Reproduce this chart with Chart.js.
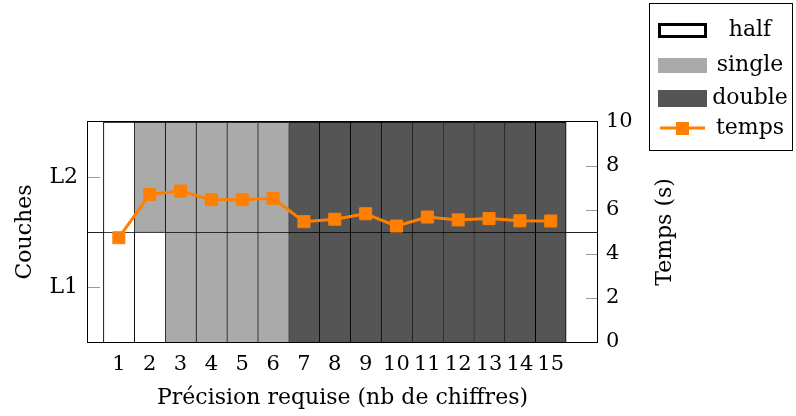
<!DOCTYPE html>
<html>
<head>
<meta charset="utf-8">
<script src="https://cdn.jsdelivr.net/npm/chart.js@4.4.0/dist/chart.umd.min.js"></script>
<style>
html, body { margin: 0; padding: 0; background: #ffffff; }
#contenedor { width: 796px; height: 416px; position: relative; }
</style>
</head>
<body>
<div id="contenedor"><canvas id="grafica"></canvas></div>
<script>
// Datos de la gráfica
const precisions = [1, 2, 3, 4, 5, 6, 7, 8, 9, 10, 11, 12, 13, 14, 15];
const coucheL1 = ['half', 'half', 'single', 'single', 'single', 'single',
    'double', 'double', 'double', 'double', 'double', 'double', 'double', 'double', 'double'];
const coucheL2 = ['half', 'single', 'single', 'single', 'single', 'single',
    'double', 'double', 'double', 'double', 'double', 'double', 'double', 'double', 'double'];
const temps = [4.74, 6.71, 6.86, 6.47, 6.47, 6.53, 5.47, 5.58, 5.83, 5.27, 5.68, 5.55, 5.61, 5.51, 5.50];
const coucheLabels = ['L1', 'L2'];
const tempsTicks = [0, 2, 4, 6, 8, 10];
const types = ['half', 'single', 'double'];

const couleurs = {
    half: '#ffffff',
    single: '#aaaaaa',
    double: '#555555',
    temps: '#ff7f00'
};
const serif = "'DejaVu Serif', serif";
const tailleTexte = 22;
const tailleChiffres = 21;

// Construir datasets de barras flotantes (una celda por capa)
const datasetsBarres = types.map(type => {
    const data = [];
    precisions.forEach((p, i) => {
        if (coucheL1[i] === type) data.push({ x: p, y: [0, 1] });
        if (coucheL2[i] === type) data.push({ x: p, y: [1, 2] });
    });
    return {
        type: 'bar',
        label: type,
        data: data,
        yAxisID: 'y',
        backgroundColor: couleurs[type],
        borderColor: '#000000',
        borderSkipped: false,
        borderWidth: ctx => ({
            left: 1,
            right: ctx.raw && ctx.raw.x === precisions[precisions.length - 1] ? 1 : 0,
            top: 1,
            bottom: 0
        }),
        grouped: false,
        barPercentage: 1,
        categoryPercentage: 1,
        order: 1
    };
});

const datasetTemps = {
    type: 'line',
    label: 'temps',
    data: precisions.map((p, i) => ({ x: p, y: temps[i] })),
    yAxisID: 'y1',
    borderColor: couleurs.temps,
    backgroundColor: couleurs.temps,
    borderWidth: 3,
    pointStyle: 'rect',
    pointRadius: 8.5,
    pointBorderWidth: 1,
    pointHoverRadius: 8.5,
    tension: 0,
    order: 0
};

// Cadre, petites graduations internes, titre de droite et légende
const cadrePlugin = {
    id: 'cadre',
    afterDatasetsDraw(chart) {
        const { ctx, chartArea: a } = chart;
        ctx.save();
        ctx.strokeStyle = '#000000';
        ctx.lineWidth = 1;
        ctx.strokeRect(Math.round(a.left) - 0.5, Math.round(a.top) - 0.5,
            Math.round(a.right - a.left) + 1, Math.round(a.bottom - a.top) + 1);

        ctx.strokeStyle = '#999999';
        [0.5, 1.5].forEach(v => {
            const y = Math.round(chart.scales.y.getPixelForValue(v)) + 0.5;
            ctx.beginPath();
            ctx.moveTo(a.left, y);
            ctx.lineTo(a.left + 12, y);
            ctx.stroke();
        });
        tempsTicks.slice(1, -1).forEach(v => {
            const y = Math.round(chart.scales.y1.getPixelForValue(v)) + 0.5;
            ctx.beginPath();
            ctx.moveTo(a.right, y);
            ctx.lineTo(a.right - 11, y);
            ctx.stroke();
        });
        ctx.restore();
    },
    afterDraw(chart) {
        const ctx = chart.ctx;
        const a = chart.chartArea;
        ctx.save();

        // titre de l'axe de droite, lu de bas en haut
        ctx.fillStyle = '#000000';
        ctx.font = tailleTexte + 'px ' + serif;
        ctx.textAlign = 'center';
        ctx.textBaseline = 'middle';
        ctx.translate(665, (a.top + a.bottom) / 2);
        ctx.rotate(-Math.PI / 2);
        ctx.fillText('Temps (s)', 0, 0);
        ctx.setTransform(1, 0, 0, 1, 0, 0);

        // légende
        ctx.fillStyle = '#ffffff';
        ctx.fillRect(649, 3, 143, 147);
        ctx.strokeStyle = '#000000';
        ctx.lineWidth = 1;
        ctx.strokeRect(649.5, 3.5, 143, 147);

        const lignes = [30, 65, 98, 128];
        ctx.lineWidth = 3;
        ctx.fillStyle = couleurs.half;
        ctx.fillRect(659, 24, 46, 12);
        ctx.strokeRect(659.5, 24.5, 46, 12);
        ctx.fillStyle = couleurs.single;
        ctx.fillRect(658, 58, 49, 15);
        ctx.fillStyle = couleurs.double;
        ctx.fillRect(658, 90, 49, 17);
        ctx.strokeStyle = couleurs.temps;
        ctx.lineWidth = 3;
        ctx.beginPath();
        ctx.moveTo(660, lignes[3]);
        ctx.lineTo(705, lignes[3]);
        ctx.stroke();
        ctx.fillStyle = couleurs.temps;
        ctx.fillRect(676, lignes[3] - 6, 13, 13);

        ctx.fillStyle = '#000000';
        ctx.font = tailleTexte + 'px ' + serif;
        ctx.textAlign = 'center';
        ctx.textBaseline = 'middle';
        ['half', 'single', 'double', 'temps'].forEach((t, i) => {
            ctx.fillText(t, 750, lignes[i]);
        });
        ctx.restore();
    }
};

const ctx = document.getElementById('grafica').getContext('2d');

const grafica = new Chart(ctx, {
    data: {
        datasets: [datasetTemps, ...datasetsBarres]
    },
    options: {
        responsive: true,
        maintainAspectRatio: false,
        animation: false,
        layout: {
            padding: { left: 0, right: 99, top: 122, bottom: 0 }
        },
        plugins: {
            legend: { display: false },
            tooltip: { enabled: false },
            title: { display: false }
        },
        scales: {
            x: {
                type: 'linear',
                offset: false,
                min: 0,
                max: 16.5,
                afterBuildTicks: scale => {
                    scale.ticks = precisions.map(p => ({ value: p }));
                },
                afterFit: scale => { scale.height = 74; },
                ticks: {
                    color: '#000000',
                    padding: 10,
                    autoSkip: false,
                    maxRotation: 0,
                    font: { family: serif, size: tailleChiffres }
                },
                grid: { display: false, drawTicks: false, offset: false },
                border: { display: false },
                title: {
                    display: true,
                    text: 'Précision requise (nb de chiffres)',
                    color: '#000000',
                    font: { family: serif, size: tailleTexte },
                    padding: { top: 0, bottom: 5 }
                }
            },
            y: {
                type: 'linear',
                position: 'left',
                min: 0,
                max: 2,
                afterBuildTicks: scale => {
                    scale.ticks = [{ value: 0.5 }, { value: 1 }, { value: 1.5 }];
                },
                afterFit: scale => { scale.width = 88; },
                ticks: {
                    color: '#000000',
                    padding: 10,
                    font: { family: serif, size: tailleTexte },
                    callback: value => value === 0.5 ? coucheLabels[0] : (value === 1.5 ? coucheLabels[1] : '')
                },
                grid: {
                    drawTicks: false,
                    lineWidth: 1,
                    color: c => (c.tick && c.tick.value === 1) ? '#222222' : 'rgba(0,0,0,0)'
                },
                border: { display: false },
                title: {
                    display: true,
                    text: 'Couches',
                    color: '#000000',
                    font: { family: serif, size: tailleTexte },
                    padding: { top: 12, bottom: 0 }
                }
            },
            y1: {
                type: 'linear',
                position: 'right',
                min: 0,
                max: 10,
                afterBuildTicks: scale => {
                    scale.ticks = tempsTicks.map(v => ({ value: v }));
                },
                afterFit: scale => { scale.width = 100; },
                ticks: {
                    color: '#000000',
                    padding: 9,
                    font: { family: serif, size: tailleChiffres }
                },
                grid: { display: false, drawTicks: false },
                border: { display: false },
                title: { display: false }
            }
        }
    },
    plugins: [cadrePlugin]
});
</script>
</body>
</html>
